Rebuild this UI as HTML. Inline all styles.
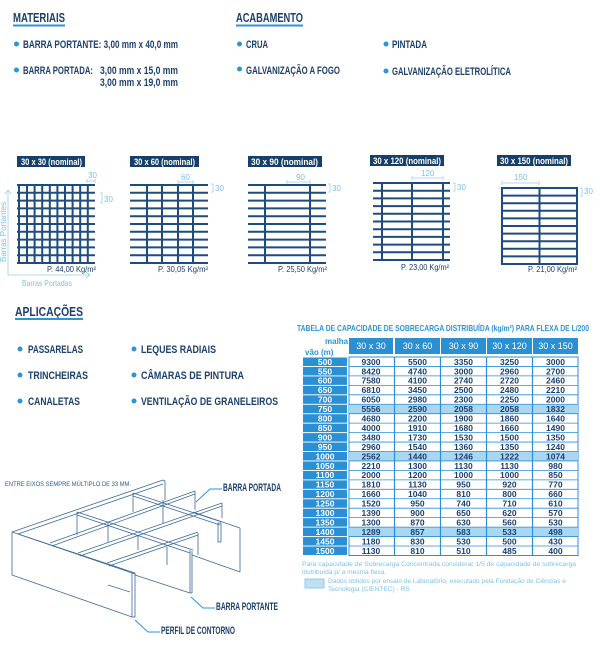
<!DOCTYPE html>
<html><head><meta charset="utf-8"><style>
html,body{margin:0;padding:0;background:#fff}
svg{display:block}
text{font-family:"Liberation Sans",sans-serif}
.h{font-weight:bold;font-size:13px;fill:#1d3f6e}
.b{font-weight:bold;font-size:11px;fill:#1d3f6e}
.d{fill:#2b95d6}
.g{stroke:#1e4c7c;stroke-width:2}
.lb{fill:#7cc3ea;font-size:8px}
.w{fill:#1d3f6e;font-size:8px}
.tw{font-weight:bold;font-size:9px;fill:#fff}
</style></head><body>
<svg width="600" height="661" viewBox="0 0 600 661" xmlns="http://www.w3.org/2000/svg">
<text class="h" x="13" y="22" textLength="52" lengthAdjust="spacingAndGlyphs">MATERIAIS</text>
<rect x="13" y="24.5" width="52" height="2" fill="#2b95d6"/>
<text class="h" x="236" y="22" textLength="67" lengthAdjust="spacingAndGlyphs">ACABAMENTO</text>
<rect x="236" y="24.5" width="67" height="2" fill="#2b95d6"/>
<circle class="d" cx="16.5" cy="44" r="2.5"/>
<text class="b" x="23" y="48" textLength="155" lengthAdjust="spacingAndGlyphs">BARRA PORTANTE: 3,00 mm x 40,0 mm</text>
<circle class="d" cx="16.5" cy="70" r="2.5"/>
<text class="b" x="23" y="74" textLength="70" lengthAdjust="spacingAndGlyphs">BARRA PORTADA:</text>
<text class="b" x="100" y="74" textLength="78" lengthAdjust="spacingAndGlyphs">3,00 mm x 15,0 mm</text>
<text class="b" x="100" y="86" textLength="78" lengthAdjust="spacingAndGlyphs">3,00 mm x 19,0 mm</text>
<circle class="d" cx="239.5" cy="44" r="2.5"/>
<text class="b" x="246" y="48" textLength="22" lengthAdjust="spacingAndGlyphs">CRUA</text>
<circle class="d" cx="239.5" cy="69" r="2.5"/>
<text class="b" x="246" y="74" textLength="94" lengthAdjust="spacingAndGlyphs">GALVANIZAÇÃO A FOGO</text>
<circle class="d" cx="386" cy="44" r="2.5"/>
<text class="b" x="392" y="48" textLength="35" lengthAdjust="spacingAndGlyphs">PINTADA</text>
<circle class="d" cx="386" cy="71" r="2.5"/>
<text class="b" x="392" y="75" textLength="119" lengthAdjust="spacingAndGlyphs">GALVANIZAÇÃO ELETROLÍTICA</text>

<g>
<rect x="17" y="156" width="68" height="11" fill="#163f6b"/>
<text class="tw" x="21" y="165" textLength="61" lengthAdjust="spacingAndGlyphs">30 x 30 (nominal)</text>
<rect x="130" y="156" width="69" height="11" fill="#163f6b"/>
<text class="tw" x="134" y="165" textLength="61" lengthAdjust="spacingAndGlyphs">30 x 60 (nominal)</text>
<rect x="248" y="156" width="74" height="11" fill="#163f6b"/>
<text class="tw" x="251" y="165" textLength="67" lengthAdjust="spacingAndGlyphs">30 x 90 (nominal)</text>
<rect x="370" y="155" width="74" height="11" fill="#163f6b"/>
<text class="tw" x="373" y="164" textLength="68" lengthAdjust="spacingAndGlyphs">30 x 120 (nominal)</text>
<rect x="497" y="155" width="74" height="11" fill="#163f6b"/>
<text class="tw" x="500" y="164" textLength="68" lengthAdjust="spacingAndGlyphs">30 x 150 (nominal)</text>
</g>

<g class="g" fill="none">
<path d="M17 185H95M17 192.8H95M17 200.6H95M17 208.4H95M17 216.2H95M17 224H95M17 231.8H95M17 239.6H95M17 247.4H95M17 255.2H95M17 263H95"/>
<path d="M19 185V263M27 185V263M34.6 185V263M42.2 185V263M49.8 185V263M57.4 185V263M65 185V263M72.6 185V263M80.2 185V263M87.8 185V263"/>
<path d="M130 185H208M130 192.8H208M130 200.6H208M130 208.4H208M130 216.2H208M130 224H208M130 231.8H208M130 239.6H208M130 247.4H208M130 255.2H208M130 263H208"/>
<path d="M147 185V263M162 185V263M178 185V263M193 185V263"/>
<path d="M248 185H326M248 192.8H326M248 200.6H326M248 208.4H326M248 216.2H326M248 224H326M248 231.8H326M248 239.6H326M248 247.4H326M248 255.2H326M248 263H326"/>
<path d="M265 185V263M310 185V263"/>
<path d="M373 183H450M373 190.7H450M373 198.4H450M373 206.1H450M373 213.8H450M373 221.5H450M373 229.2H450M373 236.9H450M373 244.6H450M373 252.3H450M373 260H450"/>
<path d="M382 183V260M412 183V260M443 183V260"/>
<rect x="502" y="188" width="75" height="76"/>
<path d="M502 195.6H577M502 203.2H577M502 210.8H577M502 218.4H577M502 226H577M502 233.6H577M502 241.2H577M502 248.8H577M502 256.4H577"/>
<path d="M539.5 188V264"/>
</g>

<g stroke="#9bd0ee" stroke-width="0.8" fill="none">
<path d="M87 181H95M87 179V183M95 179V183"/>
<path d="M100 193H102V203H100"/>
<path d="M178 182H193M178 180V184M193 180V184"/>
<path d="M211 184H213V192H211"/>
<path d="M287 182H310M287 180V184M310 180V184"/>
<path d="M328 184H330V192H328"/>
<path d="M412 178H443M412 176V180M443 176V180"/>
<path d="M453 183H455V191H453"/>
<path d="M502 183H539M502 181V185M539 181V185"/>
<path d="M580 188H582V196H580"/>
<path d="M8 190V275H90M8 190L5 194M8 190L11 194M90 275L86 272M90 275L86 278"/>
</g>
<g class="lb">
<text x="88" y="178">30</text>
<text x="104" y="202">30</text>
<text x="181" y="180">60</text>
<text x="215" y="191">30</text>
<text x="296" y="180">90</text>
<text x="332" y="191">30</text>
<text x="421" y="176">120</text>
<text x="457" y="190">30</text>
<text x="514" y="180">150</text>
<text x="584" y="194">30</text>
<text x="22" y="286" textLength="50" lengthAdjust="spacingAndGlyphs">Barras Portadas</text>
<text transform="translate(6,262) rotate(-90)" textLength="60" lengthAdjust="spacingAndGlyphs">Barras Portantes</text>
</g>
<g class="w">
<text x="47" y="272" textLength="49" lengthAdjust="spacingAndGlyphs">P. 44,00 Kg/m²</text>
<text x="158" y="272" textLength="50" lengthAdjust="spacingAndGlyphs">P. 30,05 Kg/m²</text>
<text x="278" y="272" textLength="49" lengthAdjust="spacingAndGlyphs">P. 25,50 Kg/m²</text>
<text x="401" y="270" textLength="48" lengthAdjust="spacingAndGlyphs">P. 23,00 Kg/m²</text>
<text x="528" y="272" textLength="49" lengthAdjust="spacingAndGlyphs">P. 21,00 Kg/m²</text>
</g>

<text class="h" x="15" y="316" textLength="68" lengthAdjust="spacingAndGlyphs">APLICAÇÕES</text>
<rect x="15" y="318" width="68" height="2" fill="#2b95d6"/>
<circle class="d" cx="20" cy="349" r="2.5"/>
<text class="b" x="28" y="353" textLength="55" lengthAdjust="spacingAndGlyphs">PASSARELAS</text>
<circle class="d" cx="20" cy="375" r="2.5"/>
<text class="b" x="28" y="379" textLength="60" lengthAdjust="spacingAndGlyphs">TRINCHEIRAS</text>
<circle class="d" cx="20" cy="401" r="2.5"/>
<text class="b" x="28" y="405" textLength="52" lengthAdjust="spacingAndGlyphs">CANALETAS</text>
<circle class="d" cx="134" cy="349" r="2.5"/>
<text class="b" x="141" y="353" textLength="75" lengthAdjust="spacingAndGlyphs">LEQUES RADIAIS</text>
<circle class="d" cx="134" cy="375" r="2.5"/>
<text class="b" x="141" y="379" textLength="103" lengthAdjust="spacingAndGlyphs">CÂMARAS DE PINTURA</text>
<circle class="d" cx="134" cy="401" r="2.5"/>
<text class="b" x="141" y="405" textLength="137" lengthAdjust="spacingAndGlyphs">VENTILAÇÃO DE GRANELEIROS</text>

<text x="297" y="331" font-size="8.5" font-weight="bold" fill="#2b95d6" textLength="292" lengthAdjust="spacingAndGlyphs">TABELA DE CAPACIDADE DE SOBRECARGA DISTRIBUÍDA (kg/m²) PARA FLEXA DE L/200</text>
<text x="325" y="344" font-size="8" font-weight="bold" fill="#2b95d6">malha</text>
<text x="305" y="355" font-size="8" font-weight="bold" fill="#2b95d6">vão (m)</text>
<g fill="#2b8fd3">
<rect x="349" y="338" width="44" height="16"/>
<rect x="395" y="338" width="45" height="16"/>
<rect x="441" y="338" width="45" height="16"/>
<rect x="487" y="338" width="45" height="16"/>
<rect x="533" y="338" width="45" height="16"/>
</g>
<g fill="#fff" font-size="9" text-anchor="middle">
<text x="371" y="349">30 x 30</text>
<text x="417.5" y="349">30 x 60</text>
<text x="463.5" y="349">30 x 90</text>
<text x="509.5" y="349">30 x 120</text>
<text x="555.5" y="349">30 x 150</text>
</g>
<g id="tbl"></g>
<text x="302" y="566" font-size="6.6" fill="#7cc3ea" textLength="274" lengthAdjust="spacingAndGlyphs">Para capacidade de Sobrecarga Concentrada considerar 1/5 de capacidade de sobrecarga</text>
<text x="302" y="574" font-size="6.6" fill="#7cc3ea">distribuída p/ a mesma flexa.</text>
<rect x="305" y="579" width="19" height="9" fill="#bfe0f3" stroke="#8fcbee" stroke-width="1"/>
<text x="328" y="583" font-size="6.6" fill="#7cc3ea" textLength="238" lengthAdjust="spacingAndGlyphs">Dados obtidos por ensaio de Laboratório, executado pela Fundação de Ciências e</text>
<text x="328" y="591" font-size="6.6" fill="#7cc3ea">Tecnologia (CIENTEC) - RS</text>

<!-- 3D drawing -->
<text x="5" y="486" font-size="6.5" fill="#2b5c8c" textLength="126" lengthAdjust="spacingAndGlyphs">ENTRE EIXOS SEMPRE MÚLTIPLO DE 33 MM.</text>
<g stroke="#3a6a9a" stroke-width="0.8" fill="none" stroke-linejoin="round">
<!-- contour frame -->
<path d="M12 532L163 480L165 481V500"/>
<path d="M18 534L163 484"/>
<path d="M12 532V575L132 617V572L12 532"/>
<path d="M18 534L135 574"/>
<path d="M132 572L135 573V617L132 617"/>
<!-- bearing bars (parallel to back) -->
<path d="M50 543L195 491M52 546L195 494"/>
<path d="M78 553L222 503M80 556L222 506"/>
<path d="M107 563L198 532M109 566L198 535"/>
<!-- cross bars -->
<path d="M77 512L193 550M77 515L190 553"/>
<path d="M133 493L222 522M133 496L220 525"/>
<path d="M193 512L240 528"/>
<!-- verticals -->
<path d="M77 512V535M108 523V542M133 493V512M163 500V523M138 535V550M167 547V565"/>
<path d="M190 550V593M192 551V593M190 593H192"/>
<path d="M222 503V518M198 533V555M240 528V572"/>
<path d="M218 523H221V542H218Z"/>
<path d="M195 491V510"/>
<!-- lower edges -->
<path d="M135 575L190 593M192 555L240 572"/>
<path d="M108 585L130 592"/>
</g>
<g stroke="#2b95d6" stroke-width="1" fill="none">
<path d="M196 502L210 489H222"/>
<path d="M191 597L203 608H215"/>
<path d="M135 620L148 632H160"/>
</g>
<text class="b" x="223" y="491" font-size="9" textLength="58" lengthAdjust="spacingAndGlyphs">BARRA PORTADA</text>
<text class="b" x="216" y="610" font-size="9" textLength="62" lengthAdjust="spacingAndGlyphs">BARRA PORTANTE</text>
<text class="b" x="161" y="634" font-size="9" textLength="74" lengthAdjust="spacingAndGlyphs">PERFIL DE CONTORNO</text>
</svg>
<script>
(function(){
var ns="http://www.w3.org/2000/svg";
var data=[[500,9300,5500,3350,3250,3000],[550,8420,4740,3000,2960,2700],[600,7580,4100,2740,2720,2460],[650,6810,3450,2500,2480,2210],[700,6050,2980,2300,2250,2000],[750,5556,2590,2058,2058,1832],[800,4680,2200,1900,1860,1640],[850,4000,1910,1680,1660,1490],[900,3480,1730,1530,1500,1350],[950,2960,1540,1360,1350,1240],[1000,2562,1440,1246,1222,1074],[1050,2210,1300,1130,1130,980],[1100,2000,1200,1000,1000,850],[1150,1810,1130,950,920,770],[1200,1660,1040,810,800,660],[1250,1520,950,740,710,610],[1300,1390,900,650,620,570],[1350,1300,870,630,560,530],[1400,1289,857,583,533,498],[1450,1180,830,530,500,430],[1500,1130,810,510,485,400]];
var g=document.getElementById("tbl");
function el(n,a,t){var e=document.createElementNS(ns,n);for(var k in a)e.setAttribute(k,a[k]);if(t!=null)e.textContent=t;g.appendChild(e);return e;}
var xs=[349,395,441,487,533],ws=[44,45,45,45,45];
el("rect",{x:349,y:357,width:229,height:198.5,fill:"#fff",stroke:"#2b8fd3","stroke-width":1});
for(var i=0;i<data.length;i++){
 var y=357+i*9.45, r=data[i], hl=(r[0]==750||r[0]==1000||r[0]==1400);
 el("rect",{x:303,y:y+0.5,width:44,height:8.5,fill:"#2b8fd3"});
 el("text",{x:325,y:y+7.8,fill:"#fff","font-size":"8.5","text-anchor":"middle","font-weight":"bold"},r[0]);
 if(hl)el("rect",{x:349,y:y,width:229,height:9.45,fill:"#a9d6f0"});
 if(i>0)el("line",{x1:349,x2:578,y1:y,y2:y,stroke:"#2b8fd3","stroke-width":0.8});
 for(var j=0;j<5;j++){
  el("text",{x:xs[j]+ws[j]/2,y:y+7.8,fill:"#1d3f6e","font-size":"8.5","text-anchor":"middle","font-weight":"bold"},r[j+1]);
 }
}
for(var j=1;j<5;j++)el("line",{x1:xs[j]-0.5,x2:xs[j]-0.5,y1:357,y2:555.5,stroke:"#2b8fd3","stroke-width":1.2});
})();
</script>
</body></html>
